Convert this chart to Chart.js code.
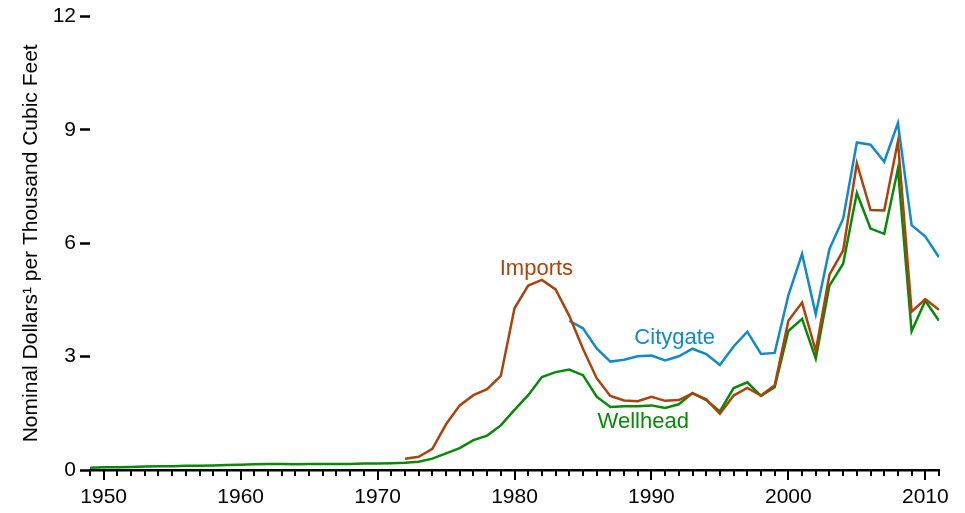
<!DOCTYPE html>
<html>
<head>
<meta charset="utf-8">
<script src="https://cdn.jsdelivr.net/npm/chart.js@4"></script>
<style>
  html, body { margin: 0; padding: 0; background: #fff; }
  #wrap { width: 965px; height: 513px; }
</style>
</head>
<body>
<div id="wrap"><canvas id="myChart" width="965" height="513"></canvas></div>
<script>
// annual prices, dollars per thousand cubic feet
var wellheadStart = 1949;
var wellhead = [0.06, 0.07, 0.07, 0.08, 0.09, 0.10, 0.10, 0.11, 0.11, 0.12,
                0.13, 0.14, 0.15, 0.16, 0.16, 0.15, 0.16, 0.16, 0.16, 0.16,
                0.17, 0.17, 0.18, 0.19, 0.22, 0.30, 0.44, 0.58, 0.79, 0.91,
                1.18, 1.59, 1.98, 2.46, 2.59, 2.66, 2.51, 1.94, 1.67, 1.69,
                1.69, 1.71, 1.64, 1.74, 2.04, 1.85, 1.55, 2.17, 2.32, 1.96,
                2.19, 3.68, 4.00, 2.95, 4.88, 5.46, 7.33, 6.39, 6.25, 7.97,
                3.67, 4.48, 3.95];

var importsStart = 1972;
var imports = [0.30, 0.35, 0.56, 1.21, 1.71, 1.98, 2.14, 2.49, 4.28, 4.88,
               5.03, 4.78, 4.08, 3.21, 2.43, 1.96, 1.84, 1.82, 1.94, 1.83,
               1.85, 2.03, 1.87, 1.49, 1.97, 2.17, 1.97, 2.24, 3.95, 4.43,
               3.15, 5.17, 5.81, 8.12, 6.88, 6.87, 8.70, 4.19, 4.52, 4.24];

var citygateStart = 1984;
var citygate = [3.95, 3.75, 3.22, 2.87, 2.92, 3.01, 3.03, 2.90, 3.01, 3.21,
                3.07, 2.78, 3.27, 3.66, 3.07, 3.10, 4.62, 5.72, 4.12, 5.85,
                6.65, 8.67, 8.61, 8.16, 9.18, 6.48, 6.18, 5.63];

var yTicks = [0, 3, 6, 9, 12];
var xLabelYears = [1950, 1960, 1970, 1980, 1990, 2000, 2010];

// series names placed on the chart (year, value)
var seriesNames = ['Imports', 'Citygate', 'Wellhead'];
var nameYears = [1981.6, 1991.7, 1989.4];
var nameValues = [5.33, 3.5, 1.27];

var colors = ['#a8440e', '#138ac8', '#0a880a'];

function toPoints(start, vals) {
    var pts = [];
    for (var i = 0; i < vals.length; i++) {
        pts.push({x: start + i, y: vals[i]});
    }
    return pts;
}

var FONT = '"Liberation Sans", Arial, sans-serif';

var yearTicks = {
    id: 'yearTicks',
    afterDraw: function(chart) {
        var ctx = chart.ctx;
        var xs = chart.scales.x;
        var ys = chart.scales.y;
        var base = ys.getPixelForValue(0);
        ctx.save();
        ctx.strokeStyle = '#000';
        ctx.lineWidth = 2;
        for (var yr = xs.min; yr <= xs.max; yr++) {
            var px = Math.round(xs.getPixelForValue(yr));
            var len = (yr % 10 === 0) ? 10 : 6;
            ctx.beginPath();
            ctx.moveTo(px, base);
            ctx.lineTo(px, base + len);
            ctx.stroke();
        }
        // series names
        ctx.font = '22px ' + FONT;
        ctx.textAlign = 'center';
        ctx.textBaseline = 'middle';
        for (var i = 0; i < seriesNames.length; i++) {
            ctx.fillStyle = colors[i];
            ctx.fillText(seriesNames[i], xs.getPixelForValue(nameYears[i]),
                         ys.getPixelForValue(nameValues[i]));
        }
        ctx.restore();
    }
};

document.addEventListener('DOMContentLoaded', drawChart);

function drawChart() {
    var ctx = document.getElementById('myChart').getContext('2d');
    new Chart(ctx, {
        type: 'line',
        data: {
            datasets: [{
                label: 'Imports',
                data: toPoints(importsStart, imports),
                borderColor: colors[0],
                borderWidth: 2.5,
                pointRadius: 0,
                fill: false,
                lineTension: 0
            }, {
                label: 'Citygate',
                data: toPoints(citygateStart, citygate),
                borderColor: colors[1],
                borderWidth: 2.5,
                pointRadius: 0,
                fill: false,
                lineTension: 0
            }, {
                label: 'Wellhead',
                data: toPoints(wellheadStart, wellhead),
                borderColor: colors[2],
                borderWidth: 2.5,
                pointRadius: 0,
                fill: false,
                lineTension: 0
            }]
        },
        options: {
            responsive: false,
            animation: false,
            layout: {padding: {top: 15, right: 26, bottom: 2, left: 0}},
            plugins: {legend: {display: false}, tooltip: {enabled: false}},
            scales: {
                x: {
                    type: 'linear',
                    min: 1949,
                    max: 2011,
                    afterBuildTicks: function(scale) {
                        scale.ticks = xLabelYears.map(function(v) { return {value: v}; });
                    },
                    afterFit: function(scale) { scale.height = 41; },
                    ticks: {
                        color: '#000',
                        font: {family: FONT, size: 21},
                        padding: 5,
                        maxRotation: 0,
                        autoSkip: false,
                        callback: function(v) { return String(v); }
                    },
                    grid: {drawOnChartArea: false, tickLength: 10, tickColor: 'rgba(0,0,0,0)'},
                    border: {display: true, color: '#000', width: 2.5}
                },
                y: {
                    min: 0,
                    max: 12,
                    afterBuildTicks: function(scale) {
                        scale.ticks = yTicks.map(function(v) { return {value: v}; });
                    },
                    afterFit: function(scale) { scale.width = 90; },
                    ticks: {
                        color: '#000',
                        font: {family: FONT, size: 21},
                        padding: 4
                    },
                    grid: {drawOnChartArea: false, tickLength: 10, tickColor: '#000', tickWidth: 2.5},
                    border: {display: false},
                    title: {
                        display: true,
                        text: 'Nominal Dollars\u00b9 per Thousand Cubic Feet',
                        color: '#000',
                        font: {family: FONT, size: 21},
                        padding: {top: 19, bottom: 0}
                    }
                }
            }
        },
        plugins: [yearTicks]
    });
}
</script>
</body>
</html>
